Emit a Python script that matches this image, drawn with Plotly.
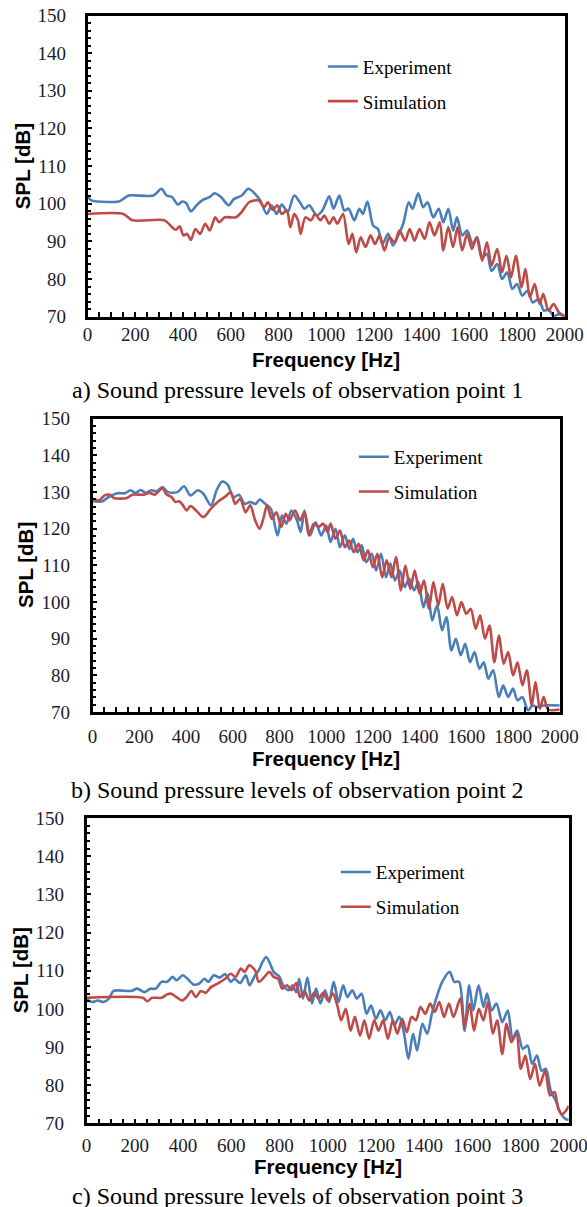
import plotly.graph_objects as go

# ---------------- data ----------------
# Observation point 1
p1_exp_f = [0, 16, 39, 131, 150, 173, 276, 310, 331, 354, 378, 397, 413, 433, 457, 480, 512, 532, 559, 591,
            614, 646, 674, 701, 724, 751, 772, 792, 814, 839, 866, 890, 909, 929, 961, 984, 1013, 1031, 1055,
            1076, 1094, 1118, 1139, 1154, 1173, 1197, 1217, 1236, 1260, 1280, 1302, 1323, 1346, 1362, 1386,
            1406, 1425, 1449, 1472, 1491, 1512, 1532, 1548, 1570, 1591, 1614, 1633, 1654, 1674, 1693, 1717,
            1737, 1759, 1780, 1800, 1822, 1843, 1866, 1890, 1913, 1932, 1953, 1976, 2000]
p1_exp_db = [101.8, 100.9, 100.6, 100.6, 101.3, 102.2, 102.2, 104.0, 102.2, 101.8, 99.8, 100.6, 100.2, 98.0,
             99.6, 100.9, 101.8, 102.8, 101.8, 99.6, 101.3, 102.2, 104.0, 102.7, 100.9, 97.3, 99.5, 97.3, 99.8,
             97.8, 102.2, 100.4, 98.7, 99.6, 96.9, 98.2, 102.0, 98.7, 102.2, 98.2, 98.7, 95.6, 98.7, 97.3, 100.6,
             94.2, 93.3, 89.3, 92.0, 88.9, 91.6, 94.7, 100.4, 98.7, 102.8, 99.1, 100.4, 96.4, 98.7, 95.1, 98.7,
             92.9, 96.4, 91.6, 92.9, 89.3, 91.1, 85.8, 86.7, 82.2, 84.0, 80.0, 81.8, 77.4, 78.7, 75.6, 76.9, 73.8,
             74.7, 71.6, 72.0, 70.2, 70.7, 70.0]
p1_sim_f = [0, 150, 189, 323, 354, 370, 386, 402, 417, 433, 452, 472, 493, 512, 535, 551, 575, 622, 646, 677,
            717, 740, 756, 776, 795, 814, 835, 850, 866, 882, 893, 913, 937, 953, 976, 992, 1013, 1031, 1047,
            1071, 1094, 1110, 1126, 1145, 1165, 1186, 1205, 1224, 1244, 1265, 1287, 1307, 1331, 1350, 1370,
            1391, 1413, 1433, 1454, 1476, 1491, 1512, 1532, 1551, 1570, 1591, 1611, 1630, 1654, 1674, 1693,
            1717, 1737, 1756, 1775, 1795, 1819, 1835, 1854, 1874, 1894, 1910, 1932, 1953, 1976, 2000]
p1_sim_db = [97.3, 97.3, 95.6, 95.6, 93.8, 93.1, 94.0, 91.6, 92.0, 90.4, 93.3, 92.0, 94.7, 92.9, 96.4, 95.1,
             96.4, 96.4, 97.8, 100.4, 100.9, 99.1, 100.4, 98.4, 99.6, 97.3, 98.2, 93.8, 97.3, 95.6, 92.0, 96.4,
             95.6, 97.3, 95.6, 96.9, 94.7, 96.4, 94.7, 97.3, 89.3, 92.0, 87.1, 91.1, 88.5, 91.6, 89.3, 91.6, 87.6,
             91.1, 89.8, 92.9, 90.2, 93.3, 90.2, 93.3, 90.7, 95.1, 91.6, 95.1, 87.6, 93.8, 88.5, 93.8, 87.6, 92.0,
             88.0, 91.1, 84.9, 89.8, 83.6, 88.0, 81.8, 86.2, 80.5, 86.2, 77.8, 82.7, 75.2, 78.7, 73.4, 76.0, 71.6,
             73.4, 71.1, 70.2]

# Observation point 2
p2_exp_f = [0, 43, 67, 107, 139, 163, 184, 206, 227, 251, 275, 299, 323, 363, 392, 419, 451, 475, 507, 531,
            555, 579, 603, 627, 651, 675, 699, 715, 739, 763, 792, 811, 830, 851, 875, 891, 907, 931, 955, 979,
            1000, 1019, 1040, 1059, 1080, 1099, 1115, 1134, 1152, 1171, 1195, 1214, 1235, 1256, 1275, 1294,
            1315, 1336, 1355, 1376, 1395, 1416, 1435, 1454, 1475, 1496, 1515, 1536, 1555, 1576, 1595, 1616,
            1635, 1656, 1675, 1694, 1715, 1739, 1758, 1779, 1800, 1819, 1840, 1864, 1883, 1902, 1931, 2000]
p2_exp_db = [127.5, 127.5, 128.6, 129.7, 129.7, 130.5, 129.8, 130.6, 129.8, 130.5, 130.2, 131.4, 130.0, 130.0,
             131.6, 129.1, 130.5, 129.5, 126.4, 130.5, 132.9, 132.0, 128.6, 129.3, 126.8, 127.3, 126.8, 128.0,
             126.8, 125.5, 118.2, 123.6, 121.4, 125.0, 122.3, 119.1, 125.0, 118.2, 121.8, 118.2, 120.9, 116.4,
             120.0, 115.0, 118.2, 114.5, 117.3, 113.6, 115.5, 110.9, 113.2, 108.6, 113.2, 106.8, 110.5, 105.9,
             108.6, 104.1, 106.4, 103.2, 105.5, 98.6, 102.3, 95.0, 99.1, 92.3, 95.9, 86.8, 90.0, 85.5, 88.6, 83.6,
             86.4, 81.8, 83.6, 79.1, 81.4, 74.1, 77.3, 74.1, 76.4, 73.2, 74.1, 70.5, 71.8, 71.4, 71.8, 71.8]
p2_sim_f = [0, 27, 51, 75, 91, 147, 171, 219, 243, 267, 283, 299, 315, 339, 355, 371, 387, 403, 419, 443, 475,
            507, 539, 571, 591, 611, 632, 655, 675, 696, 715, 731, 747, 767, 787, 808, 827, 843, 867, 888, 907,
            926, 947, 968, 987, 1006, 1019, 1040, 1059, 1080, 1099, 1118, 1139, 1160, 1179, 1200, 1219, 1240,
            1259, 1280, 1299, 1320, 1339, 1360, 1379, 1400, 1419, 1440, 1459, 1480, 1499, 1520, 1539, 1560,
            1579, 1600, 1619, 1640, 1659, 1680, 1699, 1720, 1739, 1760, 1779, 1800, 1819, 1840, 1859, 1880,
            1896, 1915, 1931, 1950, 2000]
p2_sim_db = [128.2, 127.7, 129.1, 129.3, 128.4, 128.4, 129.3, 129.3, 129.8, 129.3, 130.2, 131.1, 129.5, 128.6,
             127.3, 127.5, 126.4, 125.0, 126.2, 125.0, 123.2, 125.5, 127.5, 128.9, 130.0, 126.8, 128.2, 124.5,
             126.4, 122.3, 120.0, 122.7, 126.4, 122.7, 124.5, 120.5, 124.1, 122.3, 125.0, 122.3, 124.5, 118.2,
             121.4, 120.5, 121.4, 119.1, 121.4, 117.3, 119.5, 115.0, 116.8, 113.6, 115.9, 111.4, 114.1, 109.5,
             113.2, 106.8, 111.4, 106.8, 112.3, 103.2, 110.0, 103.6, 108.6, 102.3, 105.9, 98.2, 105.5, 99.1,
             105.0, 98.2, 101.4, 96.4, 100.0, 96.8, 98.2, 92.7, 96.4, 90.0, 93.6, 83.6, 90.9, 83.2, 86.4, 80.0,
             83.6, 77.3, 81.4, 71.8, 78.2, 70.9, 74.1, 70.7, 70.7]

# Observation point 3
p3_exp_f = [0, 23, 47, 70, 93, 112, 186, 210, 241, 264, 287, 311, 334, 357, 373, 399, 419, 443, 466, 489, 505,
            528, 551, 575, 598, 613, 637, 660, 676, 699, 714, 730, 745, 761, 776, 800, 815, 839, 854, 870, 882,
            898, 916, 935, 952, 970, 989, 1006, 1025, 1045, 1064, 1082, 1102, 1121, 1141, 1161, 1180, 1200,
            1219, 1239, 1258, 1277, 1297, 1317, 1335, 1354, 1371, 1393, 1413, 1432, 1452, 1475, 1506, 1525,
            1545, 1568, 1587, 1604, 1626, 1646, 1661, 1680, 1700, 1724, 1747, 1767, 1786, 1809, 1829, 1848,
            1868, 1887, 1905, 1925, 1946, 1964, 1988, 2000]
p3_exp_db = [102.5, 101.8, 102.2, 101.8, 102.7, 104.7, 104.7, 105.3, 104.4, 105.3, 105.3, 107.1, 107.1, 108.4,
             107.5, 108.8, 107.9, 106.4, 106.6, 107.9, 107.1, 108.8, 108.2, 109.1, 107.1, 107.9, 106.8, 108.8,
             106.2, 108.8, 110.1, 112.3, 113.6, 111.9, 109.7, 108.4, 106.2, 104.9, 106.2, 104.4, 107.9, 102.7,
             108.2, 101.4, 105.3, 101.4, 104.9, 101.8, 107.1, 101.8, 106.2, 103.1, 104.9, 102.7, 104.0, 98.7,
             100.9, 97.4, 99.6, 97.0, 99.2, 95.7, 97.9, 93.5, 86.9, 93.5, 89.1, 96.1, 93.5, 98.7, 103.1, 107.1,
             109.7, 107.1, 107.1, 94.3, 106.2, 99.6, 106.2, 100.5, 104.0, 99.6, 101.4, 96.5, 99.6, 92.2, 94.3,
             89.5, 90.4, 85.6, 87.8, 83.8, 84.3, 78.6, 75.9, 72.9, 71.1, 70.9]
p3_sim_f = [0, 233, 252, 272, 311, 334, 349, 373, 396, 415, 435, 453, 474, 494, 516, 543, 575, 598, 618, 640,
            655, 675, 699, 714, 738, 758, 776, 795, 811, 831, 851, 870, 885, 904, 924, 944, 963, 981, 1002,
            1022, 1040, 1056, 1075, 1095, 1113, 1134, 1152, 1172, 1193, 1211, 1230, 1250, 1270, 1289, 1309,
            1328, 1348, 1366, 1385, 1405, 1425, 1444, 1463, 1483, 1503, 1522, 1550, 1568, 1589, 1607, 1627,
            1646, 1665, 1685, 1703, 1724, 1742, 1762, 1783, 1801, 1820, 1840, 1860, 1879, 1902, 1922, 1941,
            1957, 1972, 1988, 2000]
p3_sim_db = [102.9, 102.9, 102.0, 102.9, 102.9, 103.8, 104.0, 103.1, 102.2, 103.1, 104.7, 103.1, 104.7, 104.2,
             105.7, 106.6, 107.9, 109.2, 108.4, 110.6, 109.7, 111.4, 110.1, 107.1, 108.4, 109.7, 108.4, 107.9,
             105.3, 106.2, 104.9, 106.8, 103.1, 104.7, 102.2, 104.2, 102.7, 104.2, 102.2, 104.0, 100.9, 97.0,
             100.0, 94.3, 97.9, 93.0, 97.0, 92.2, 97.0, 94.3, 97.0, 92.2, 97.0, 93.5, 97.4, 93.9, 97.9, 97.0,
             100.5, 98.7, 101.4, 99.2, 101.8, 97.9, 101.4, 97.9, 102.7, 95.2, 101.4, 94.3, 100.0, 97.0, 101.8,
             93.5, 97.0, 88.2, 96.1, 91.3, 93.5, 84.3, 87.8, 81.6, 85.6, 79.9, 83.8, 77.3, 78.2, 73.8, 72.4, 73.3,
             74.6]

series_names = ["Experiment", "Simulation"]
captions = ["a) Sound pressure levels of observation point 1",
            "b) Sound pressure levels of observation point 2",
            "c) Sound pressure levels of observation point 3"]
x_title = "<b>Frequency [Hz]</b>"
y_title = "<b>SPL [dB]</b>"
x_tick_vals = [0, 200, 400, 600, 800, 1000, 1200, 1400, 1600, 1800, 2000]
y_tick_vals = [70, 80, 90, 100, 110, 120, 130, 140, 150]

# ---------------- layout geometry ----------------
# Targets are given in picture pixels; the captured picture maps figure
# pixels as  pic = A + S * fig, so convert targets back to figure pixels.
AX, SX = 4.5, 0.96
AY, SY = 10.5, 0.982
W, H = 607, 1218


def fx(x):
    return (x - AX) / SX


def fy(y):
    return (y - AY) / SY


def px(x):
    return fx(x) / W


def py(y):
    return 1 - fy(y) / H


BLUE = "#4a7ebb"
RED = "#be4b48"
boxes = [  # left, right, top, bottom (picture px)
    (87, 564, 16, 317),
    (92, 559, 419, 712),
    (86, 568, 818, 1123),
]
legend_text_x = [362, 393, 375]      # picture px where legend text starts
legend_first_y = [68, 458, 873]      # picture px of first legend entry
caption_y = [390, 790, 1196]
xtitle_y = [360, 758, 1166]
ytitle_x = [21.5, 25, 20]
xlabel_standoff = [-1, 5, 3]
ylabel_standoff = [15, 16, 16]

panels = [
    (p1_exp_f, p1_exp_db, p1_sim_f, p1_sim_db),
    (p2_exp_f, p2_exp_db, p2_sim_f, p2_sim_db),
    (p3_exp_f, p3_exp_db, p3_sim_f, p3_sim_db),
]

fig = go.Figure()
layout = dict(
    width=W, height=H,
    margin=dict(l=0, r=0, t=0, b=0),
    paper_bgcolor="white", plot_bgcolor="white",
    showlegend=True,
    annotations=[],
)

SERIF = "Liberation Serif, Times New Roman, serif"
SANS = "Liberation Sans, Arial, sans-serif"

for i, (ef, edb, sf, sdb) in enumerate(panels):
    n = "" if i == 0 else str(i + 1)
    leg = "legend" if i == 0 else f"legend{i + 1}"
    for name, xs, ys, col in [(series_names[0], ef, edb, BLUE), (series_names[1], sf, sdb, RED)]:
        fig.add_trace(go.Scatter(
            x=xs, y=ys, name=name, mode="lines",
            line=dict(color=col, width=2.6, shape="spline", smoothing=0.8),
            xaxis="x" + n, yaxis="y" + n, legend=leg, legendgroup=f"{name}{i}",
            hoverinfo="skip",
        ))
    l, r, t, b = boxes[i]
    layout["xaxis" + n] = dict(
        domain=[px(l), px(r)], anchor="y" + n, range=[0, 2000],
        tickvals=x_tick_vals, ticks="inside", ticklen=5, tickwidth=2, tickcolor="black",
        minor=dict(dtick=50, tick0=0, ticks="inside", ticklen=5, tickwidth=2, tickcolor="black"),
        showline=True, linecolor="black", linewidth=2.5, mirror=True,
        showgrid=False, zeroline=False,
        tickfont=dict(family=SERIF, size=19, color="#1b1b2b"),
        ticklabelstandoff=xlabel_standoff[i],
    )
    layout["yaxis" + n] = dict(
        domain=[py(b), py(t)], anchor="x" + n, range=[70, 150],
        tickvals=y_tick_vals, ticks="inside", ticklen=5, tickwidth=2, tickcolor="black",
        minor=dict(dtick=2, tick0=70, ticks="inside", ticklen=4, tickwidth=2, tickcolor="black"),
        showline=True, linecolor="black", linewidth=2.5, mirror=True,
        showgrid=False, zeroline=False,
        tickfont=dict(family=SERIF, size=19, color="#1b1b2b"),
        ticklabelstandoff=ylabel_standoff[i],
    )
    lx = (fx(legend_text_x[i]) - 41.5) / W
    ly = 1 - (fy(legend_first_y[i]) - 20.3) / H
    layout[leg] = dict(
        x=lx, y=ly, xanchor="left", yanchor="top",
        bgcolor="rgba(0,0,0,0)", borderwidth=0,
        font=dict(family=SERIF, size=19, color="black"),
        traceorder="grouped", tracegroupgap=7,
        itemclick=False, itemdoubleclick=False,
    )
    # axis titles
    layout["annotations"].append(dict(
        text=x_title, xref="paper", yref="paper",
        x=px((l + r) / 2), y=py(xtitle_y[i]), xanchor="center", yanchor="middle",
        showarrow=False, font=dict(family=SANS, size=20.5, color="black"),
    ))
    layout["annotations"].append(dict(
        text=y_title, xref="paper", yref="paper", textangle=-90,
        x=px(ytitle_x[i]), y=py((t + b) / 2), xanchor="center", yanchor="middle",
        showarrow=False, font=dict(family=SANS, size=20.5, color="black"),
    ))
    # caption
    layout["annotations"].append(dict(
        text=captions[i], xref="paper", yref="paper",
        x=px(297), y=py(caption_y[i]), xanchor="center", yanchor="middle",
        showarrow=False, font=dict(family=SERIF, size=24, color="black"),
    ))

fig.update_layout(**layout)
fig.write_html("out.html")
